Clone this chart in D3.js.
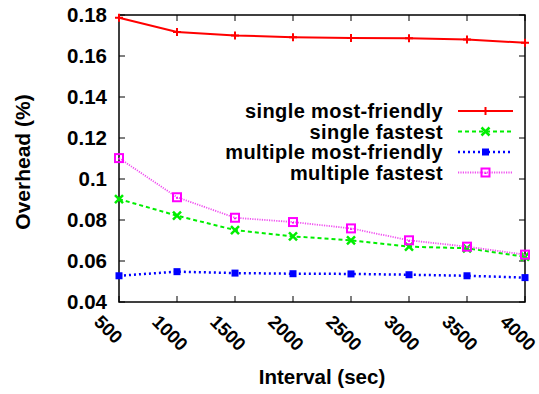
<!DOCTYPE html>
<html><head><meta charset="utf-8">
<script src="https://cdn.jsdelivr.net/npm/d3@7"></script>
<style>body{margin:0;background:#fff}svg{display:block}text{font-family:"Liberation Sans",Arial,sans-serif;font-weight:bold;fill:#000}</style>
</head><body><svg id="c" width="539" height="394"></svg>
<script>
const intervals = [500,1000,1500,2000,2500,3000,3500,4000];
const singleMostFriendly = [0.1787,0.1717,0.1700,0.1692,0.1688,0.1686,0.1680,0.1665];
const singleFastest = [0.0902,0.0821,0.0751,0.0720,0.0701,0.0670,0.0662,0.0621];
const multipleMostFriendly = [0.0528,0.0548,0.0541,0.0538,0.0537,0.0533,0.0528,0.0519];
const multipleFastest = [0.1102,0.0911,0.0811,0.0790,0.0759,0.0701,0.0670,0.0631];
const seriesNames = ["single most-friendly","single fastest","multiple most-friendly","multiple fastest"];
const yTicks = [0.04,0.06,0.08,0.1,0.12,0.14,0.16,0.18];
const xTicks = [500,1000,1500,2000,2500,3000,3500,4000];

const svg = d3.select("#c");
const L=119, R=525, T=15, B=302;
const x = d3.scaleLinear().domain([500,4000]).range([L,R]);
const y = d3.scaleLinear().domain([0.04,0.18]).range([B,T]);

const styles = [
  {color:"#ff0000", width:2, dash:null, marker:"plus"},
  {color:"#00ee00", width:2, dash:"4,3", marker:"cross"},
  {color:"#0000ff", width:2.5, dash:"2,3", marker:"fsquare"},
  {color:"#f050f0", width:1.8, dash:"1.2,1.2", marker:"osquare"}
];
const data = [singleMostFriendly, singleFastest, multipleMostFriendly, multipleFastest];

const g = svg.append("g");
const tl = 6;
yTicks.forEach(t=>{
  g.append("line").attr("x1",L).attr("x2",L+tl).attr("y1",y(t)).attr("y2",y(t)).attr("stroke","#000").attr("stroke-width",1);
  g.append("line").attr("x1",R).attr("x2",R-tl).attr("y1",y(t)).attr("y2",y(t)).attr("stroke","#000").attr("stroke-width",1);
  g.append("text").attr("x",L-12).attr("y",y(t)+7).attr("text-anchor","end").attr("font-size",20.5).text(d3.format("")(t));
});
xTicks.forEach(t=>{
  g.append("line").attr("x1",x(t)).attr("x2",x(t)).attr("y1",B).attr("y2",B-tl).attr("stroke","#000").attr("stroke-width",1);
  g.append("line").attr("x1",x(t)).attr("x2",x(t)).attr("y1",T).attr("y2",T+tl).attr("stroke","#000").attr("stroke-width",1);
  g.append("text").attr("transform",`translate(${x(t)-26},${323}) rotate(45)`).attr("font-size",18.5).text(t);
});
g.append("rect").attr("x",L).attr("y",T).attr("width",R-L).attr("height",B-T).attr("fill","none").attr("stroke","#000").attr("stroke-width",1.5);

svg.append("text").attr("transform","translate(30,162) rotate(-90)").attr("text-anchor","middle").attr("font-size",21).text("Overhead (%)");
svg.append("text").attr("x",(L+R)/2).attr("y",384).attr("text-anchor","middle").attr("font-size",20.5).text("Interval (sec)");

function marker(sel, type, color, cx, cy){
  if(type==="plus"){
    sel.append("path").attr("d",`M${cx-4},${cy}H${cx+4}M${cx},${cy-4}V${cy+4}`).attr("stroke",color).attr("stroke-width",2);
  } else if(type==="cross"){
    sel.append("path").attr("d",`M${cx-4},${cy-4}L${cx+4},${cy+4}M${cx-4},${cy+4}L${cx+4},${cy-4}`).attr("stroke",color).attr("stroke-width",2.5);
  } else if(type==="fsquare"){
    sel.append("rect").attr("x",cx-3.5).attr("y",cy-3.5).attr("width",7).attr("height",7).attr("fill",color);
  } else {
    sel.append("rect").attr("x",cx-4).attr("y",cy-4).attr("width",8).attr("height",8).attr("fill","none").attr("stroke","#ff00ff").attr("stroke-width",2);
    sel.append("rect").attr("x",cx-1).attr("y",cy).attr("width",2).attr("height",1.5).attr("fill","#ff00ff");
  }
}

const line = d3.line().x((d,i)=>x(intervals[i])).y(d=>y(d));
data.forEach((vals,k)=>{
  const s = styles[k];
  const p = svg.append("path").attr("d",line(vals)).attr("fill","none").attr("stroke",s.color).attr("stroke-width",s.width);
  if(s.dash) p.attr("stroke-dasharray",s.dash);
  vals.forEach((v,i)=>marker(svg,s.marker,s.color,x(intervals[i]),y(v)));
});

const legY = [111,131.5,152,172.5];
seriesNames.forEach((n,k)=>{
  const s = styles[k];
  svg.append("text").attr("x",443).attr("y",legY[k]+7).attr("text-anchor","end").attr("font-size",20).attr("letter-spacing","0.4px").text(n);
  const p = svg.append("line").attr("x1",458).attr("x2",513).attr("y1",legY[k]).attr("y2",legY[k]).attr("stroke",s.color).attr("stroke-width",s.width);
  if(s.dash) p.attr("stroke-dasharray",s.dash);
  marker(svg,s.marker,s.color,485.5,legY[k]);
});
</script></body></html>
